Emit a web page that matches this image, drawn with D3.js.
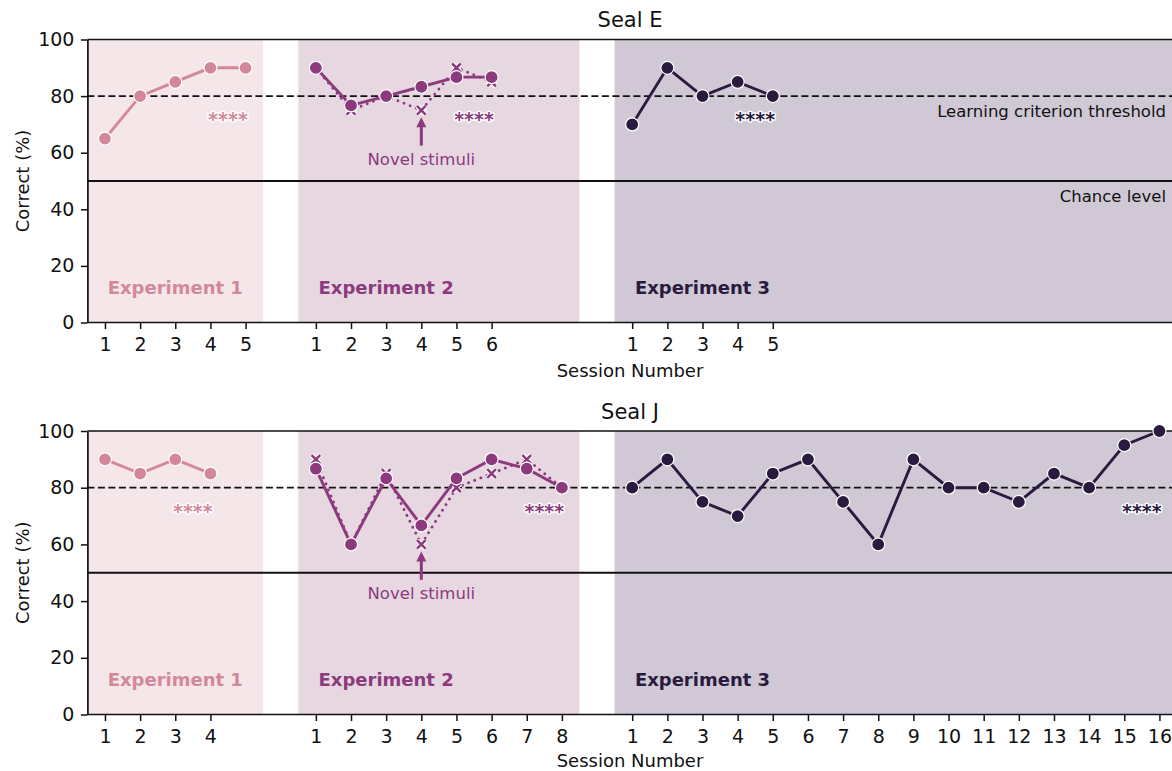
<!DOCTYPE html>
<html><head><meta charset="utf-8">
<script src="https://cdn.jsdelivr.net/npm/d3@7"></script>
<style>
body{margin:0;background:#fff}
svg{display:block}
text{font-family:"DejaVu Sans",sans-serif}
</style>
</head><body>
<svg id="c" width="1172" height="771"></svg>
<script>
// ---------------- data ----------------
const seals = ["Seal E", "Seal J"];
const experiments = ["Experiment 1", "Experiment 2", "Experiment 3"];

const sealE_exp1 = [65, 80, 85, 90, 90];
const sealE_exp2 = [90, 76.7, 80, 83.3, 86.7, 86.7];
const sealE_exp2_novel = [90, 75, 80, 75, 90, 85];
const sealE_exp3 = [70, 90, 80, 85, 80];

const sealJ_exp1 = [90, 85, 90, 85];
const sealJ_exp2 = [86.7, 60, 83.3, 66.7, 83.3, 90, 86.7, 80];
const sealJ_exp2_novel = [90, 60, 85, 60, 80, 85, 90, 80];
const sealJ_exp3 = [80, 90, 75, 70, 85, 90, 75, 60, 90, 80, 80, 75, 85, 80, 95, 100];

const yTicks = [0, 20, 40, 60, 80, 100];
const thresholdValue = 80;
const chanceValue = 50;
const thresholdLabel = "Learning criterion threshold";
const chanceLabel = "Chance level";
const sigLabel = "****";
const sigValue = 73;
const novelLabel = "Novel stimuli";
const novelSession = 4;
const xLabel = "Session Number";
const yLabel = "Correct (%)";

// ---------------- layout / style ----------------
const expStart = [1, 7, 16];                 // axis position of session 1 of each experiment
const expShade = [[0.5, 5.5], [6.5, 14.5], [15.5, 31.5]];
const lineColors = ["#d3879b", "#8c3a7d", "#2a1a3f"];
const shadeColors = ["#f5e6ea", "#e6d7e1", "#d0c9d5"];

const panels = [
  { title: seals[0], series: [sealE_exp1, sealE_exp2, sealE_exp3], novel: sealE_exp2_novel,
    top: 39.5, bottom: 322.5, showLineLabels: true, xlabGap: 54 },
  { title: seals[1], series: [sealJ_exp1, sealJ_exp2, sealJ_exp3], novel: sealJ_exp2_novel,
    top: 431, bottom: 714.5, showLineLabels: false, xlabGap: 52 }
];

const svg = d3.select("#c");
const x = d3.scaleLinear().domain([0.5, 31.5]).range([87.4, 1177]);
const xMid = 630;

panels.forEach(p => {
  const y = d3.scaleLinear().domain([0, 100]).range([p.bottom, p.top]);
  const g = svg.append("g");

  // shading
  g.selectAll("rect.shade").data(expShade).join("rect")
    .attr("x", d => x(d[0])).attr("width", d => x(d[1]) - x(d[0]))
    .attr("y", y(100)).attr("height", y(0) - y(100))
    .attr("fill", (d, i) => shadeColors[i]);

  // reference lines
  g.append("line").attr("x1", x(0.5)).attr("x2", x(31.5))
    .attr("y1", y(thresholdValue)).attr("y2", y(thresholdValue))
    .attr("stroke", "#111").attr("stroke-width", 1.7).attr("stroke-dasharray", "7,3.5");
  g.append("line").attr("x1", x(0.5)).attr("x2", x(31.5))
    .attr("y1", y(chanceValue)).attr("y2", y(chanceValue))
    .attr("stroke", "#111").attr("stroke-width", 1.9);

  if (p.showLineLabels) {
    g.append("text").attr("x", 1166).attr("y", y(thresholdValue) + 21)
      .attr("text-anchor", "end").attr("font-size", 16.5).attr("fill", "#111").text(thresholdLabel);
    g.append("text").attr("x", 1166).attr("y", y(chanceValue) + 21)
      .attr("text-anchor", "end").attr("font-size", 16.5).attr("fill", "#111").text(chanceLabel);
  }

  // experiment labels
  experiments.forEach((e, i) => {
    g.append("text").attr("x", x(expStart[i] + 2)).attr("y", y(10))
      .attr("text-anchor", "middle").attr("font-size", 18).attr("font-weight", "bold")
      .attr("fill", lineColors[i]).text(e);
  });

  // spines
  g.append("line").attr("x1", x(0.5)).attr("x2", x(31.5)).attr("y1", y(100)).attr("y2", y(100))
    .attr("stroke", "#111").attr("stroke-width", 1.7);

  // axes
  const tickPos = [], tickLab = [];
  p.series.forEach((s, i) => s.forEach((v, j) => { tickPos.push(expStart[i] + j); tickLab.push(j + 1); }));
  const xa = g.append("g").attr("transform", `translate(0,${y(0)})`)
    .call(d3.axisBottom(x).tickValues(tickPos).tickFormat((d, i) => tickLab[i]).tickSize(6.5).tickPadding(8.5).tickSizeOuter(0));
  const ya = g.append("g").attr("transform", `translate(${x(0.5)},0)`)
    .call(d3.axisLeft(y).tickValues(yTicks).tickSize(6.5).tickPadding(6.5).tickSizeOuter(0));
  [xa, ya].forEach(a => {
    a.select(".domain").attr("stroke", "#111").attr("stroke-width", 1.7);
    a.selectAll(".tick line").attr("stroke", "#111").attr("stroke-width", 1.5);
    a.selectAll(".tick text").attr("font-size", 19).attr("fill", "#111").attr("font-family", "DejaVu Sans, sans-serif");
  });
  xa.select(".domain").attr("d", `M${x(0.5)},0H${x(31.5)}`);

  // axis labels / title
  g.append("text").attr("x", xMid).attr("y", y(0) + p.xlabGap)
    .attr("text-anchor", "middle").attr("font-size", 18).attr("fill", "#111").text(xLabel);
  g.append("text").attr("transform", `translate(28.5,${(y(0) + y(100)) / 2}) rotate(-90)`)
    .attr("text-anchor", "middle").attr("font-size", 18).attr("fill", "#111").text(yLabel);
  g.append("text").attr("x", xMid).attr("y", y(100) - 12.5)
    .attr("text-anchor", "middle").attr("font-size", 21).attr("fill", "#111").text(p.title);

  // novel stimuli series (dotted, crosses)
  const c2 = lineColors[1];
  const novelPts = p.novel.map((v, j) => [x(expStart[1] + j), y(v)]);
  g.append("path").attr("d", d3.line()(novelPts)).attr("fill", "none")
    .attr("stroke", c2).attr("stroke-width", 2.8).attr("stroke-linecap", "round")
    .attr("stroke-dasharray", "0.1,6.5");
  const xs = 4.3;
  const crossPath = ([cx, cy]) => `M${cx - xs},${cy - xs}L${cx + xs},${cy + xs}M${cx - xs},${cy + xs}L${cx + xs},${cy - xs}`;
  g.selectAll("path.xw").data(novelPts).join("path").attr("d", crossPath)
    .attr("stroke", "#fff").attr("stroke-width", 4.8).attr("fill", "none");
  g.selectAll("path.xc").data(novelPts).join("path").attr("d", crossPath)
    .attr("stroke", c2).attr("stroke-width", 2.5).attr("fill", "none");

  // main series
  p.series.forEach((s, i) => {
    const pts = s.map((v, j) => [x(expStart[i] + j), y(v)]);
    g.append("path").attr("d", d3.line()(pts)).attr("fill", "none")
      .attr("stroke", lineColors[i]).attr("stroke-width", 2.9);
    g.selectAll(null).data(pts).join("circle")
      .attr("cx", d => d[0]).attr("cy", d => d[1]).attr("r", 6.5)
      .attr("fill", lineColors[i]).attr("stroke", "#fff").attr("stroke-width", 1.2);
    // significance stars
    g.append("text").attr("x", x(expStart[i] + s.length - 1.5)).attr("y", y(sigValue) + 10)
      .attr("text-anchor", "middle").attr("font-size", 19).attr("font-weight", "bold")
      .attr("fill", lineColors[i]).attr("stroke", "#fff").attr("stroke-width", 2.6)
      .attr("stroke-linejoin", "round").attr("paint-order", "stroke").text(sigLabel);
  });

  // novel stimuli arrow
  const nv = p.novel[novelSession - 1];
  const ax = x(expStart[1] + novelSession - 1);
  const tipY = y(nv - 2.5), tailY = y(nv - 12.5);
  g.append("line").attr("x1", ax).attr("x2", ax).attr("y1", tailY).attr("y2", tipY + 8)
    .attr("stroke", c2).attr("stroke-width", 3);
  g.append("path").attr("d", `M${ax},${tipY}L${ax - 5},${tipY + 10}L${ax + 5},${tipY + 10}Z`).attr("fill", c2);
  g.append("text").attr("x", ax).attr("y", y(nv - 19.3))
    .attr("text-anchor", "middle").attr("font-size", 16.5).attr("fill", c2).text(novelLabel);
});
</script>
</body></html>
